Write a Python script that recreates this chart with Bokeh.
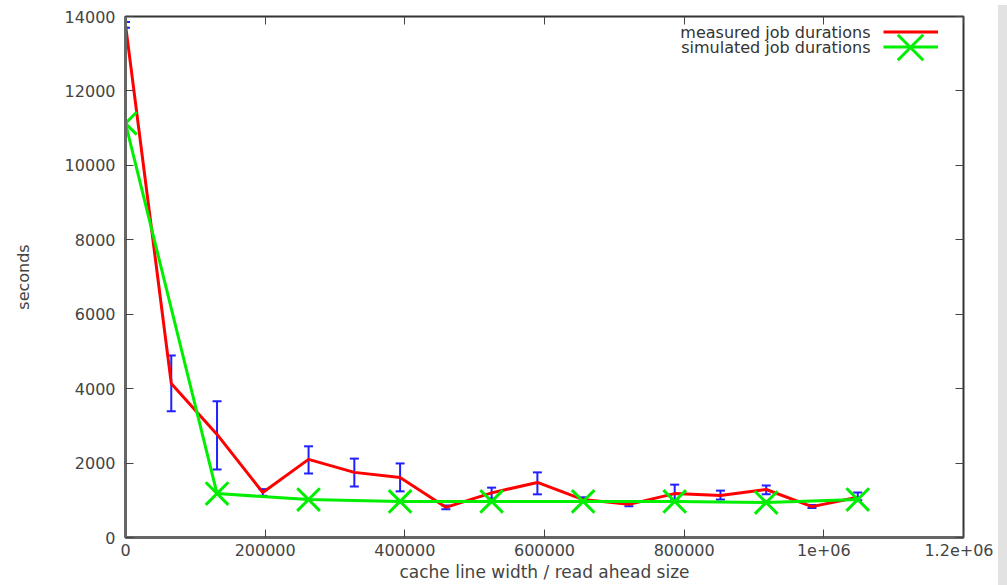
from bokeh.plotting import figure
from bokeh.models import (Whisker, ColumnDataSource, LinearAxis, Legend, LegendItem,
                          Label, FixedTicker, Range1d, Div, TeeHead)
from bokeh.layouts import row
from bokeh.core.properties import value
from bokeh.embed import file_html
from bokeh.resources import INLINE

# ---- data ----
x_measured = [0, 65536, 131072, 196608, 262144, 327680, 393216, 458752, 524288,
              589824, 655360, 720896, 786432, 851968, 917504, 983040, 1048576]
measured = [13780, 4140, 2770, 1210, 2100, 1750, 1610, 810, 1200,
            1480, 1020, 890, 1180, 1130, 1290, 830, 1080]
measured_low = [13700, 3390, 1830, 1120, 1720, 1370, 1240, 760, 1050,
                1160, 960, 840, 1020, 1020, 1160, 790, 1000]
measured_high = [13850, 4890, 3660, 1300, 2450, 2120, 1990, 860, 1340,
                 1750, 1080, 940, 1420, 1260, 1400, 870, 1210]

x_simulated = [0, 131072, 262144, 393216, 524288, 655360, 786432, 917504, 1048576]
simulated = [11130, 1180, 1020, 970, 970, 970, 970, 940, 1020]

x_ticks = [0, 200000, 400000, 600000, 800000, 1000000, 1200000]
x_tick_labels = ["0", "200000", "400000", "600000", "800000", "1e+06", "1.2e+06"]
y_ticks = [0, 2000, 4000, 6000, 8000, 10000, 12000, 14000]

series_names = ["measured job durations", "simulated job durations"]
x_title = "cache line width / read ahead size"
y_title = "seconds"

FONT = "DejaVu Sans"

p = figure(width=993, height=585, output_backend="svg", toolbar_location=None,
           x_range=Range1d(0, 1200000), y_range=Range1d(0, 14000),
           min_border_left=125, min_border_right=30, min_border_top=16,
           min_border_bottom=48)
p.xgrid.visible = False
p.ygrid.visible = False
p.background_fill_color = "white"
p.border_fill_color = "white"
p.outline_line_color = "#333333"
p.outline_line_width = 2

def style_axis(ax, show_labels=True):
    ax.major_tick_in = 8
    ax.major_tick_out = 0
    ax.minor_tick_line_color = None
    ax.major_tick_line_color = "#444444"
    ax.major_tick_line_width = 1
    ax.axis_line_color = "#666666"
    ax.axis_line_width = 3
    ax.major_label_text_font = FONT
    ax.major_label_text_color = "#444444"
    ax.major_label_text_font_size = "16px"
    ax.axis_label_text_font = FONT
    ax.axis_label_text_font_size = "16px"
    ax.axis_label_text_font_style = "normal"
    ax.axis_label_text_color = "#444444"
    if not show_labels:
        ax.major_label_text_font_size = "1px"
        ax.major_label_standoff = 0
        ax.axis_line_color = None

xax = p.xaxis[0]
yax = p.yaxis[0]
style_axis(xax)
style_axis(yax)
xax.ticker = FixedTicker(ticks=x_ticks)
xax.major_label_overrides = {t: l for t, l in zip(x_ticks, x_tick_labels)}
yax.ticker = FixedTicker(ticks=y_ticks)
xax.axis_label = x_title
yax.axis_label = y_title
xax.axis_label_text_font_size = "17px"
xax.major_label_standoff = 6
xax.axis_label_standoff = 3
yax.major_label_standoff = 10
yax.axis_label_standoff = 29

top_ax = LinearAxis(ticker=FixedTicker(ticks=x_ticks))
right_ax = LinearAxis(ticker=FixedTicker(ticks=y_ticks))
style_axis(top_ax, show_labels=False)
style_axis(right_ax, show_labels=False)
top_ax.major_label_overrides = {t: "" for t in x_ticks}
right_ax.major_label_overrides = {t: "" for t in y_ticks}
p.add_layout(top_ax, "above")
p.add_layout(right_ax, "right")

src_m = ColumnDataSource(dict(x=x_measured, y=measured, lo=measured_low, hi=measured_high))
src_s = ColumnDataSource(dict(x=x_simulated, y=simulated))

wh = Whisker(source=src_m, base="x", upper="hi", lower="lo",
             line_color="#2020ff", line_width=2,
             upper_head=TeeHead(size=9, line_color="#2020ff", line_width=2),
             lower_head=TeeHead(size=9, line_color="#2020ff", line_width=2))
p.add_layout(wh)

r_meas = p.line("x", "y", source=src_m, line_color="#ff0000", line_width=3)
r_sim = p.line("x", "y", source=src_s, line_color="#00ee00", line_width=3)
r_sim_m = p.scatter("x", "y", source=src_s, marker="x", size=32,
                    line_color="#00ee00", line_width=3)

legend_common = dict(label_width=0, label_standoff=0, label_text_font_size="1px",
                     padding=0, spacing=0, margin=0,
                     background_fill_alpha=0, border_line_color=None)
legend_lines = Legend(items=[LegendItem(label=value(""), renderers=[r_meas]),
                             LegendItem(label=value(""), renderers=[r_sim])],
                      location=(758, 483), glyph_width=55, glyph_height=15,
                      label_height=15, **legend_common)
legend_marker = Legend(items=[LegendItem(label=value(""), renderers=[r_sim_m])],
                       location=(740, 445), glyph_width=90, glyph_height=90,
                       label_height=90, **legend_common)
p.add_layout(legend_lines)
p.add_layout(legend_marker)

for i, name in enumerate(series_names):
    p.add_layout(Label(x=745, y=505 - 15 * i, x_units="screen", y_units="screen",
                       text=name, text_align="right", text_baseline="middle",
                       text_font=FONT, text_font_size="16px", text_color="#333333"))

strip = Div(width=14, height=580, styles={"background-color": "#e2e2e2", "margin-top": "5px"})
layout = row(p, strip)

open("out.html", "w").write(file_html(layout, INLINE))
